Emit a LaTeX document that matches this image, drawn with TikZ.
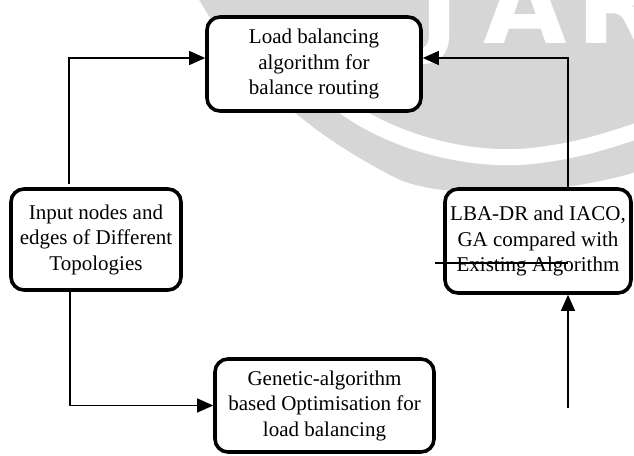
\documentclass[tikz,border=0pt]{standalone}
\usepackage{fontspec}
\setmainfont{Liberation Serif}
\newfontfamily\wmfont{DejaVu Sans}
\usetikzlibrary{arrows.meta,calc}
\definecolor{wm}{gray}{0.84}
\tikzset{
  box/.style={draw, line width=3.6pt, rounded corners=13pt, fill=white, align=center,
    font=\fontsize{21}{25.5}\selectfont, inner sep=0pt},
  conn/.style={line width=1.2pt},
  arr/.style={conn, -{Triangle[length=16pt,width=14pt]}},
  wmletter/.style={text=white, font=\fontsize{108}{108}\wmfont\bfseries, inner sep=0pt, anchor=base}
}
\begin{document}
\begin{tikzpicture}[x=1pt,y=-1pt]
\useasboundingbox (0,0) rectangle (634,455);
\clip (0,0) rectangle (634,455);
% watermark
\fill[wm] (198,-2) .. controls (240,70) and (300,130) .. (400,180)
  .. controls (450,200) and (560,195) .. (636,172) -- (636,-2) -- cycle;
\draw[white, line width=16pt] (330,95) .. controls (380,140) and (470,165) .. (540,155)
  .. controls (580,150) and (610,140) .. (640,130);
\node[wmletter] (wj) at (440,43) {J};
\node[wmletter] (wa) at (525,43) {A};
\node[wmletter] (wr) at (618,43) {R};
% boxes
\node[box, minimum width=214pt, minimum height=94pt] (T) at (314,64)
  {Load balancing\\algorithm for\\balance routing};
\node[box, minimum width=170pt, minimum height=101pt] (L) at (96,239.5)
  {Input nodes and\\edges of Different\\Topologies};
\node[box, minimum width=186pt, minimum height=104pt] (R) at (538,241)
  {LBA-DR and IACO,\\GA compared with\\Existing Algorithm};
\node[box, minimum width=219pt, minimum height=93pt] (B) at (324.5,405.5)
  {Genetic-algorithm\\based Optimisation for\\load balancing};
% connectors
\draw[arr] ([xshift=-27pt,yshift=3pt]L.north) |- ([yshift=6pt]T.west);
\draw[arr] ([xshift=-26pt]L.south) |- (B.west);
\coordinate (rb) at (568,408);
\draw[arr] (rb) -- (rb |- R.south);
\draw[arr] ([xshift=30pt]R.north) |- ([yshift=6pt]T.east);
\coordinate (s1) at (435,263);
\draw[conn] (s1) -- (s1 -| rb);
\end{tikzpicture}
\end{document}
